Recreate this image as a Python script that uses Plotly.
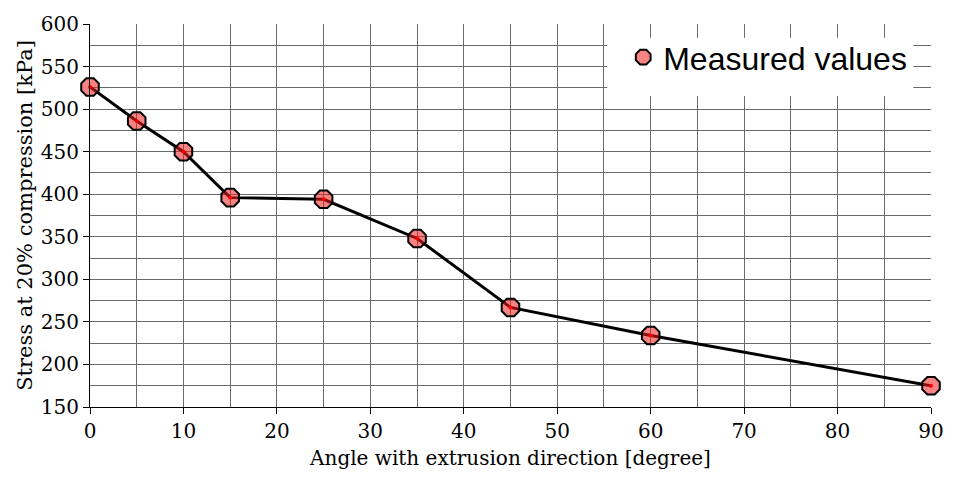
import plotly.graph_objects as go

# Measured compressive stress versus angle to the extrusion direction
angle_deg = [0, 5, 10, 15, 25, 35, 45, 60, 90]
stress_kpa = [526, 486, 450, 396, 394, 348, 267, 234, 175]

x_ticks = [0, 10, 20, 30, 40, 50, 60, 70, 80, 90]
y_ticks = [150, 200, 250, 300, 350, 400, 450, 500, 550, 600]

serif = "DejaVu Serif, serif"
sans = "Liberation Sans, Arial, sans-serif"
grid = "#6a6a6a"
fill = "rgba(240,30,30,0.55)"

fig = go.Figure()

fig.add_trace(go.Scatter(
    x=angle_deg, y=stress_kpa,
    mode="lines+markers", showlegend=False, cliponaxis=False,
    line=dict(color="black", width=3),
    marker=dict(symbol="octagon", size=19, color=fill,
                line=dict(color="black", width=2)),
))
# small red centre dot on each measurement
fig.add_trace(go.Scatter(
    x=angle_deg, y=stress_kpa, mode="markers", showlegend=False,
    hoverinfo="skip", cliponaxis=False,
    marker=dict(symbol="circle", size=4, color="#ff0000"),
))
# legend entry: marker only
fig.add_trace(go.Scatter(
    x=[None], y=[None], mode="markers", name="Measured values",
    marker=dict(symbol="octagon", size=16, color=fill,
                line=dict(color="black", width=2)),
))

axis_common = dict(
    showline=True, linecolor="black", linewidth=1, mirror=False,
    showgrid=True, gridcolor=grid, gridwidth=1.3,
    ticks="outside", ticklen=6, tickcolor="black", tickwidth=1,
    tickfont=dict(family=serif, size=20, color="black"),
    zeroline=False,
)

fig.update_xaxes(
    range=[0, 90], tickvals=x_ticks,
    minor=dict(dtick=5, showgrid=True, gridcolor=grid, gridwidth=1.3, ticks=""),
    title=dict(text="Angle with extrusion direction [degree]",
               font=dict(family=serif, size=20, color="black"), standoff=8),
    **axis_common,
)
fig.update_yaxes(
    range=[150, 600], tickvals=y_ticks,
    minor=dict(dtick=25, showgrid=True, gridcolor=grid, gridwidth=1.3, ticks=""),
    title=dict(text="Stress at 20% compression [kPa]",
               font=dict(family=serif, size=21, color="black"), standoff=2),
    **axis_common,
)

# white panel behind the legend
fig.add_shape(type="rect", xref="paper", yref="paper",
              x0=0.615, x1=0.979, y0=0.812, y1=0.964,
              fillcolor="white", line=dict(width=0), layer="above")

fig.update_layout(
    width=956, height=479,
    margin=dict(l=90, r=16, t=14, b=72),
    font=dict(family=serif, color="black"),
    plot_bgcolor="white", paper_bgcolor="white",
    legend=dict(x=0.634, y=0.913, xanchor="left", yanchor="middle",
                bgcolor="rgba(0,0,0,0)", borderwidth=0,
                font=dict(family=sans, size=32, color="black"),
                itemsizing="trace"),
)

fig.write_html("out.html")
